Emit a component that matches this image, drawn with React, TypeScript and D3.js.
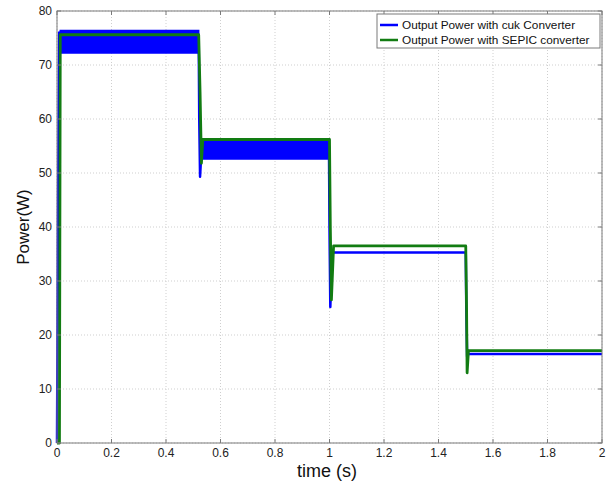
import React from "react";
import * as d3 from "d3";

const xTicks = [0, 0.2, 0.4, 0.6, 0.8, 1, 1.2, 1.4, 1.6, 1.8, 2];
const yTicks = [0, 10, 20, 30, 40, 50, 60, 70, 80];

// Output power with cuk converter (mean trace), [time, W]
const cukTime = [0, 0.004, 0.008, 0.02, 0.52, 0.522, 0.525, 0.53, 0.545, 0.998, 1.0, 1.003, 1.01, 1.5, 1.502, 1.505, 1.51, 2];
const cukPower = [0, 45, 76, 75, 75, 60, 49.3, 54, 55, 55, 40, 25.2, 35.3, 35.3, 25, 16, 16.5, 16.5];

// Ripple envelope of cuk output (dense switching ripple)
const cukBandStart = [0.012, 0.535];
const cukBandEnd = [0.52, 0.998];
const cukBandLow = [72.2, 52.6];
const cukBandHigh = [76.4, 56.2];

// Output power with SEPIC converter, [time, W]
const sepicTime = [0, 0.009, 0.012, 0.52, 0.525, 0.53, 0.535, 1.0, 1.003, 1.007, 1.015, 1.5, 1.503, 1.505, 1.51, 2];
const sepicPower = [0, 0, 75.6, 75.6, 65, 51.8, 56.2, 56.2, 40, 26.5, 36.5, 36.5, 25, 13, 17.1, 17.1];

const legendLabels = ["Output Power with cuk Converter", "Output Power with SEPIC converter"];
const BLUE = "#0000ff";
const GREEN = "#127c12";

export default function App() {
  const W = 611, H = 484;
  const left = 57, right = 602, top = 11, bottom = 443;
  const x = d3.scaleLinear().domain([0, 2]).range([left, right]);
  const y = d3.scaleLinear().domain([0, 80]).range([bottom, top]);
  const mk = (ts: number[], vs: number[]) =>
    d3.line<number>().x((t) => x(t)).y((_, i) => y(vs[i]))(ts) || "";
  const bands = cukBandStart.map((s, i) =>
    d3
      .area<number>()
      .x((t) => x(t))
      .y0(y(cukBandLow[i]))
      .y1(y(cukBandHigh[i]))([s, cukBandEnd[i]]) || ""
  );
  const font = "'Liberation Sans', Arial, sans-serif";
  return (
    <div style={{ position: "fixed", left: 0, top: 0 }}>
      <svg width={W} height={H} style={{ display: "block", background: "#fff" }}>
        {/* grid */}
        {xTicks.map((t) => (
          <line key={"gx" + t} x1={x(t)} x2={x(t)} y1={top} y2={bottom} stroke="#cfcfcf" strokeDasharray="1,2" strokeWidth={1} />
        ))}
        {yTicks.map((t) => (
          <line key={"gy" + t} x1={left} x2={right} y1={y(t)} y2={y(t)} stroke="#cfcfcf" strokeDasharray="1,2" strokeWidth={1} />
        ))}
        {/* data */}
        <g>
          {bands.map((d, i) => (
            <path key={"b" + i} d={d} fill={BLUE} stroke={BLUE} strokeWidth={1.5} />
          ))}
          <path d={mk(cukTime, cukPower)} fill="none" stroke={BLUE} strokeWidth={2.5} strokeLinejoin="round" />
          <path d={mk(sepicTime, sepicPower)} fill="none" stroke={GREEN} strokeWidth={2.8} strokeLinejoin="round" />
        </g>
        {/* frame */}
        <rect x={left} y={top} width={right - left} height={bottom - top} fill="none" stroke="#7a7a7a" strokeWidth={1} />
        {xTicks.map((t) => (
          <g key={"tx" + t}>
            <line x1={x(t)} x2={x(t)} y1={bottom} y2={bottom - 4} stroke="#7a7a7a" />
            <line x1={x(t)} x2={x(t)} y1={top} y2={top + 4} stroke="#7a7a7a" />
            <text x={x(t)} y={bottom + 14} textAnchor="middle" fontFamily={font} fontSize={12} fill="#222">{t}</text>
          </g>
        ))}
        {yTicks.map((t) => (
          <g key={"ty" + t}>
            <line x1={left} x2={left + 4} y1={y(t)} y2={y(t)} stroke="#7a7a7a" />
            <line x1={right} x2={right - 4} y1={y(t)} y2={y(t)} stroke="#7a7a7a" />
            <text x={left - 5} y={y(t) + 4} textAnchor="end" fontFamily={font} fontSize={12} fill="#222">{t}</text>
          </g>
        ))}
        {/* axis labels */}
        <text x={327} y={477} textAnchor="middle" fontFamily={font} fontSize={18} fill="#111">time (s)</text>
        <text transform={`translate(29,${(top + bottom) / 2}) rotate(-90)`} textAnchor="middle" fontFamily={font} fontSize={17} fill="#111">Power(W)</text>
        {/* legend */}
        <g>
          <rect x={377} y={14} width={223} height={34} fill="#fff" stroke="#7a7a7a" strokeWidth={1} />
          {legendLabels.map((l, i) => (
            <g key={l}>
              <line x1={380} x2={398} y1={25 + i * 15} y2={25 + i * 15} stroke={i === 0 ? BLUE : GREEN} strokeWidth={2.5} />
              <text x={402} y={29 + i * 15} fontFamily={font} fontSize={11.8} fill="#111">{l}</text>
            </g>
          ))}
        </g>
      </svg>
    </div>
  );
}
